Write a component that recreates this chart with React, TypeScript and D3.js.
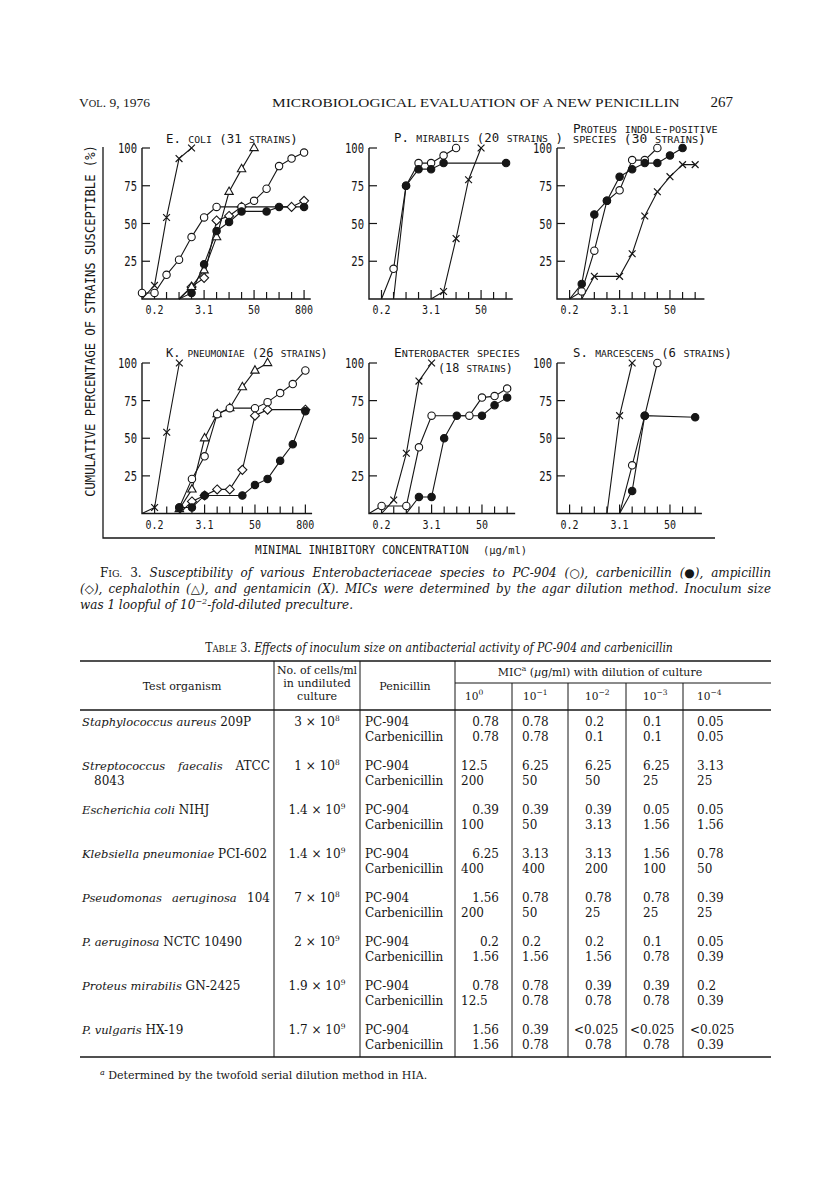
import React, { useEffect, useRef } from "react";
import * as d3 from "d3";

type Pt = [number, number];

// twofold dilution series (µg/ml) used on every x axis
const dilutions = [0.1, 0.2, 0.39, 0.78, 1.56, 3.13, 6.25, 12.5, 25, 50, 100, 200, 400, 800];
const xLabelValues = [0.2, 3.13, 50, 800];
const xLabelText = ["0.2", "3.1", "50", "800"];
const yTickValues = [25, 50, 75, 100];

// E. coli (31 strains)
const ecoliPC: Pt[] = [[0.1, 4], [0.2, 4], [0.39, 16], [0.78, 26], [1.56, 41], [3.13, 54], [6.25, 61], [25, 61], [50, 65], [100, 73], [200, 88], [400, 93], [800, 97]];
const ecoliCarb: Pt[] = [[0.78, 0], [1.56, 4], [3.13, 23], [6.25, 45], [12.5, 51], [25, 58], [100, 58], [200, 61], [800, 61]];
const ecoliAmp: Pt[] = [[0.78, 0], [1.56, 8], [3.13, 14], [6.25, 52], [12.5, 55], [25, 61], [400, 61], [800, 65]];
const ecoliCeph: Pt[] = [[0.78, 0], [1.56, 8], [3.13, 19], [6.25, 41], [12.5, 71], [25, 86], [50, 100]];
const ecoliGent: Pt[] = [[0.1, 0], [0.2, 9], [0.39, 54], [0.78, 93], [1.56, 100]];

// P. mirabilis (20 strains)
const mirPC: Pt[] = [[0.2, 0], [0.39, 20], [0.78, 75], [1.56, 90], [3.13, 90], [6.25, 95], [12.5, 100]];
const mirCarb: Pt[] = [[0.39, 0], [0.78, 75], [1.56, 86], [3.13, 86], [6.25, 90], [200, 90]];
const mirGent: Pt[] = [[3.13, 0], [6.25, 5], [12.5, 40], [25, 79], [50, 100]];

// Proteus indole-positive species (30 strains)
const indPC: Pt[] = [[0.2, 0], [0.39, 5], [0.78, 32], [1.56, 65], [3.13, 72], [6.25, 92], [12.5, 92], [25, 100]];
const indCarb: Pt[] = [[0.2, 0], [0.39, 10], [0.78, 56], [1.56, 65], [3.13, 81], [6.25, 86], [12.5, 90], [25, 90], [50, 95], [100, 100]];
const indGent: Pt[] = [[0.39, 0], [0.78, 15], [3.13, 15], [6.25, 30], [12.5, 55], [25, 71], [50, 81], [100, 89], [200, 89]];

// K. pneumoniae (26 strains)
const kpPC: Pt[] = [[0.78, 4], [1.56, 23], [3.13, 38], [6.25, 66], [12.5, 70], [50, 70], [100, 74], [200, 80], [400, 86], [800, 95]];
const kpCarb: Pt[] = [[0.78, 4], [1.56, 4], [3.13, 12], [25, 12], [50, 19], [100, 23], [200, 35], [400, 46], [800, 68]];
const kpAmp: Pt[] = [[0.78, 0], [1.56, 8], [3.13, 12], [6.25, 16], [12.5, 16], [25, 29], [50, 65], [100, 69], [800, 69]];
const kpCeph: Pt[] = [[0.78, 3], [1.56, 16], [3.13, 50], [6.25, 66], [12.5, 70], [25, 84], [50, 95], [100, 100]];
const kpGent: Pt[] = [[0.1, 0], [0.2, 4], [0.39, 54], [0.78, 100]];

// Enterobacter species (18 strains)
const entPC: Pt[] = [[0.1, 0], [0.2, 5], [0.78, 5], [1.56, 44], [3.13, 65], [25, 65], [50, 77], [100, 78], [200, 83]];
const entCarb: Pt[] = [[0.78, 0], [1.56, 11], [3.13, 11], [6.25, 50], [12.5, 65], [50, 65], [100, 72], [200, 77]];
const entGent: Pt[] = [[0.2, 0], [0.39, 9], [0.78, 40], [1.56, 88], [3.13, 100]];

// S. marcescens (6 strains)
const smPC: Pt[] = [[3.13, 0], [6.25, 32], [12.5, 65], [25, 100]];
const smCarb: Pt[] = [[3.13, 0], [6.25, 15], [12.5, 65], [200, 64]];
const smGent: Pt[] = [[1.56, 0], [3.13, 65], [6.25, 100]];

const panelTitles = [
  ["E. coli  (31 strains)"],
  ["P. mirabilis  (20 strains )"],
  ["Proteus indole-positive", "species  (30 strains)"],
  ["K. pneumoniae (26 strains)"],
  ["Enterobacter species", "(18 strains)"],
  ["S. marcescens (6 strains)"],
];
const panelSeries: Record<string, Pt[]>[] = [
  { amp: ecoliAmp, ceph: ecoliCeph, gent: ecoliGent, pc: ecoliPC, carb: ecoliCarb },
  { gent: mirGent, pc: mirPC, carb: mirCarb },
  { gent: indGent, pc: indPC, carb: indCarb },
  { amp: kpAmp, ceph: kpCeph, gent: kpGent, pc: kpPC, carb: kpCarb },
  { gent: entGent, pc: entPC, carb: entCarb },
  { gent: smGent, pc: smPC, carb: smCarb },
];

// Table 3
const orgItalic = ["Staphylococcus aureus", "Streptococcus faecalis", "Escherichia coli", "Klebsiella pneumoniae", "Pseudomonas aeruginosa", "P. aeruginosa", "Proteus mirabilis", "P. vulgaris"];
const orgStrain = ["209P", "ATCC", "NIHJ", "PCI-602", "104", "NCTC 10490", "GN-2425", "HX-19"];
const orgStrain2 = ["", "8043", "", "", "", "", "", ""];
const orgJustify = [false, true, false, false, true, false, false, false];
const cellsBase = ["3", "1", "1.4", "1.4", "7", "2", "1.9", "1.7"];
const cellsExp = ["8", "8", "9", "9", "8", "9", "9", "9"];
const dilutionExp = ["0", "−1", "−2", "−3", "−4"];
const micPC = [
  ["0.78", "0.78", "0.2", "0.1", "0.05"],
  ["12.5", "6.25", "6.25", "6.25", "3.13"],
  ["0.39", "0.39", "0.39", "0.05", "0.05"],
  ["6.25", "3.13", "3.13", "1.56", "0.78"],
  ["1.56", "0.78", "0.78", "0.78", "0.39"],
  ["0.2", "0.2", "0.2", "0.1", "0.05"],
  ["0.78", "0.78", "0.39", "0.39", "0.2"],
  ["1.56", "0.39", "<0.025", "<0.025", "<0.025"],
];
const micCarb = [
  ["0.78", "0.78", "0.1", "0.1", "0.05"],
  ["200", "50", "50", "25", "25"],
  ["100", "50", "3.13", "1.56", "1.56"],
  ["400", "400", "200", "100", "50"],
  ["200", "50", "25", "25", "25"],
  ["1.56", "1.56", "1.56", "0.78", "0.39"],
  ["12.5", "0.78", "0.78", "0.78", "0.39"],
  ["1.56", "0.78", "0.78", "0.78", "0.39"],
];

const INK = "#161616";
const MONO = "'DejaVu Sans Mono', monospace";
const SERIF = "'DejaVu Serif', serif";
const TIMES = "'Liberation Serif', serif";

// stretch a text (drawn at 0,0) to a given width
function fit(t: any, x: number, y: number, width: number, extra = "") {
  const len = (t.node() as SVGTextElement).getComputedTextLength();
  const sx = len > 0 ? width / len : 1;
  t.attr("transform", `translate(${x},${y})${extra} scale(${sx},1)`);
}

// lowercase letters become small capitals
function smallCaps(t: any, str: string, big: number, small: number) {
  (str.match(/[a-z]+|[^a-z]+/g) || []).forEach((part) => {
    const low = /[a-z]/.test(part);
    t.append("tspan").attr("font-size", low ? small : big).text(low ? part.toUpperCase() : part);
  });
  return t;
}

function justify(t: any, width: number) {
  const len = (t.node() as SVGTextElement).getComputedTextLength();
  const spaces = ((t.text() as string).match(/ /g) || []).length;
  if (spaces) t.attr("word-spacing", (width - len) / spaces);
}

function marker(g: any, drug: string, cx: number, cy: number) {
  if (drug === "pc" || drug === "carb") {
    g.append("circle").attr("cx", cx).attr("cy", cy).attr("r", 3.7)
      .attr("fill", drug === "pc" ? "#fff" : INK).attr("stroke", INK).attr("stroke-width", 1.1);
  } else if (drug === "amp") {
    const s = 4.5;
    g.append("path").attr("d", `M${cx},${cy - s}L${cx + s},${cy}L${cx},${cy + s}L${cx - s},${cy}Z`)
      .attr("fill", "#fff").attr("stroke", INK).attr("stroke-width", 1.1);
  } else if (drug === "ceph") {
    g.append("path").attr("d", `M${cx},${cy - 4.8}L${cx + 4.2},${cy + 2.6}L${cx - 4.2},${cy + 2.6}Z`)
      .attr("fill", "#fff").attr("stroke", INK).attr("stroke-width", 1.1);
  } else {
    const s = 3.4;
    g.append("path").attr("d", `M${cx - s},${cy - s}L${cx + s},${cy + s}M${cx - s},${cy + s}L${cx + s},${cy - s}`)
      .attr("fill", "none").attr("stroke", INK).attr("stroke-width", 1.2);
  }
}

const App = () => {
  const ref = useRef<SVGSVGElement | null>(null);

  useEffect(() => {
    const svg = d3.select(ref.current);
    svg.selectAll("*").remove();
    svg.append("rect").attr("width", 816).attr("height", 1199).attr("fill", "#fff");
    svg.style("white-space", "pre");

    // running head
    const vol = svg.append("text").attr("font-family", TIMES).attr("fill", INK);
    smallCaps(vol, "Vol. 9, 1976", 13, 10);
    fit(vol, 79, 107, 71);
    const head = svg.append("text").attr("font-family", TIMES).attr("font-size", 13).attr("fill", INK)
      .text("MICROBIOLOGICAL EVALUATION OF A NEW PENICILLIN");
    fit(head, 272, 107, 408);
    svg.append("text").attr("font-family", TIMES).attr("font-size", 15).attr("fill", INK)
      .attr("x", 733).attr("y", 107).attr("text-anchor", "end").text("267");

    // panel geometry
    const layout = [
      { x0: 142, yBase: 299, yTop: 148, step: 12.5, ticks: 13, end: 13.5, titles: [[166, 143, 132]] },
      { x0: 369, yBase: 299, yTop: 148, step: 12.5, ticks: 11, end: 11.5, titles: [[394, 141.8, 169]] },
      { x0: 557, yBase: 299, yTop: 148, step: 12.6, ticks: 11, end: 11.7, titles: [[573, 132.8, 145], [573, 143.3, 133]] },
      { x0: 142, yBase: 513.5, yTop: 363, step: 12.6, ticks: 13, end: 13.5, titles: [[166, 356.7, 162]] },
      { x0: 369, yBase: 513.5, yTop: 363, step: 12.6, ticks: 11, end: 11.6, titles: [[394, 356.7, 126], [438, 372, 75]] },
      { x0: 557, yBase: 513.5, yTop: 363, step: 12.6, ticks: 11, end: 11.5, titles: [[573, 356.7, 159]] },
    ];

    layout.forEach((L, k) => {
      const x = d3.scaleLog().base(2).domain([0.1, 819.2]).range([L.x0, L.x0 + 13 * L.step]);
      const y = d3.scaleLinear().domain([0, 100]).range([L.yBase, L.yTop]);
      const g = svg.append("g");

      // axes
      g.append("path")
        .attr("d", `M${L.x0},${L.yTop}V${L.yBase}H${L.x0 + L.end * L.step}`)
        .attr("fill", "none").attr("stroke", INK).attr("stroke-width", 1.4);
      dilutions.slice(1, L.ticks + 1).forEach((d) => {
        const major = xLabelValues.includes(d);
        g.append("line").attr("x1", x(d)).attr("x2", x(d))
          .attr("y1", L.yBase).attr("y2", L.yBase - (major ? 9 : 7))
          .attr("stroke", INK).attr("stroke-width", 1.2);
      });
      xLabelValues.forEach((d, i) => {
        if (d > dilutions[L.ticks]) return;
        const t = g.append("text").attr("font-family", MONO).attr("font-size", 12.5)
          .attr("text-anchor", "middle").attr("fill", INK).text(xLabelText[i]);
        t.attr("transform", `translate(${x(d)},${L.yBase + 15}) scale(0.8,1)`);
      });
      yTickValues.forEach((v) => {
        g.append("line").attr("x1", L.x0).attr("x2", L.x0 + 8)
          .attr("y1", y(v)).attr("y2", y(v)).attr("stroke", INK).attr("stroke-width", 1.2);
        const t = g.append("text").attr("font-family", MONO).attr("font-size", 13.5)
          .attr("text-anchor", "end").attr("fill", INK).text(String(v));
        t.attr("transform", `translate(${L.x0 - 5},${y(v) + 5}) scale(0.78,1)`);
      });

      // titles
      panelTitles[k].forEach((str, j) => {
        const [tx, ty, tw] = L.titles[j];
        const t = smallCaps(g.append("text").attr("font-family", MONO).attr("fill", INK), str, 12, 9.5);
        fit(t, tx, ty, tw);
      });

      // curves
      const series = panelSeries[k];
      const line = d3.line<Pt>().x((d) => x(d[0])).y((d) => y(d[1]));
      const order = ["amp", "ceph", "gent", "pc", "carb"].filter((s) => series[s]);
      order.forEach((s) => {
        g.append("path").attr("d", line(series[s]) as string)
          .attr("fill", "none").attr("stroke", INK).attr("stroke-width", 1.1);
      });
      order.forEach((s) => {
        series[s].filter((d) => d[1] > 0).forEach((d) => marker(g, s, x(d[0]), y(d[1])));
      });
    });

    // shared axis titles and bracket
    svg.append("path").attr("d", "M103,147V538H715").attr("fill", "none")
      .attr("stroke", INK).attr("stroke-width", 1.3);
    const yTitle = svg.append("text").attr("font-family", MONO).attr("font-size", 13.5)
      .attr("text-anchor", "middle").attr("fill", INK)
      .text("CUMULATIVE  PERCENTAGE  OF  STRAINS  SUSCEPTIBLE (%)");
    fit(yTitle, 95, 321, 352, " rotate(-90)");
    const xTitle = svg.append("text").attr("font-family", MONO).attr("font-size", 13)
      .attr("fill", INK).text("MINIMAL  INHIBITORY  CONCENTRATION");
    fit(xTitle, 255, 554, 214);
    const unit = svg.append("text").attr("font-family", MONO).attr("font-size", 10)
      .attr("fill", INK).text("(µg/ml)");
    fit(unit, 483, 554, 44);

    // figure legend
    const cap1 = svg.append("text").attr("font-family", SERIF).attr("font-size", 12)
      .attr("fill", INK).attr("x", 100).attr("y", 577);
    cap1.append("tspan").text("F");
    cap1.append("tspan").attr("font-size", 9.5).text("IG.");
    cap1.append("tspan").text(" 3. ");
    cap1.append("tspan").attr("font-style", "italic")
      .text("Susceptibility of various Enterobacteriaceae species to PC-904 (○), carbenicillin (●), ampicillin");
    justify(cap1, 671);
    const cap2 = svg.append("text").attr("font-family", SERIF).attr("font-size", 12)
      .attr("font-style", "italic").attr("fill", INK).attr("x", 80).attr("y", 593)
      .text("(◇), cephalothin (△), and gentamicin (X). MICs were determined by the agar dilution method. Inoculum size");
    justify(cap2, 691);
    const cap3 = svg.append("text").attr("font-family", SERIF).attr("font-size", 12)
      .attr("font-style", "italic").attr("fill", INK).attr("x", 80).attr("y", 609);
    cap3.append("tspan").text("was 1 loopful of 10");
    cap3.append("tspan").attr("font-size", 8).attr("dy", -5).text("−2");
    cap3.append("tspan").attr("dy", 5).text("-fold-diluted preculture.");

    // table title
    const tt = svg.append("text").attr("font-family", SERIF).attr("font-size", 12)
      .attr("fill", INK).attr("text-anchor", "middle");
    tt.append("tspan").text("T");
    tt.append("tspan").attr("font-size", 9.5).text("ABLE");
    tt.append("tspan").text(" 3. ");
    tt.append("tspan").attr("font-style", "italic")
      .text("Effects of inoculum size on antibacterial activity of PC-904 and carbenicillin");
    fit(tt, 439, 652, 468);

    // table frame
    const left = 80, right = 771, top = 661, subRule = 683, headRule = 710, bottom = 1057;
    const colX = [455, 512, 568, 626, 683];
    const rule = (x1: number, y1: number, x2: number, y2: number, w = 1) =>
      svg.append("line").attr("x1", x1).attr("y1", y1).attr("x2", x2).attr("y2", y2)
        .attr("stroke", INK).attr("stroke-width", w);
    rule(left, top, right, top, 1.6);
    rule(left, headRule, right, headRule, 1.4);
    rule(left, bottom, right, bottom, 1.6);
    rule(colX[0], subRule, right, subRule, 1);
    [274, 360, colX[0]].forEach((vx) => rule(vx, top, vx, bottom, 1));
    colX.slice(1).forEach((vx) => rule(vx, subRule, vx, bottom, 1));

    const cell = (x: number, y: number, anchor = "start", size = 12) =>
      svg.append("text").attr("font-family", SERIF).attr("font-size", size).attr("fill", INK)
        .attr("x", x).attr("y", y).attr("text-anchor", anchor);

    cell(182, 690, "middle", 11).text("Test organism");
    cell(317, 674, "middle", 11).text("No. of cells/ml");
    cell(317, 687, "middle", 11).text("in undiluted");
    cell(317, 700, "middle", 11).text("culture");
    cell(405, 690, "middle", 11).text("Penicillin");
    const mic = cell(600, 676, "middle", 11);
    mic.append("tspan").text("MIC");
    mic.append("tspan").attr("font-size", 7.5).attr("dy", -5).text("a");
    mic.append("tspan").attr("dy", 5).text(" (");
    mic.append("tspan").attr("font-style", "italic").text("µ");
    mic.append("tspan").text("g/ml) with dilution of culture");
    dilutionExp.forEach((e, i) => {
      const h = cell(colX[i] + [10, 11, 17, 17, 14][i], 700, "start", 10.5);
      h.append("tspan").text("10");
      h.append("tspan").attr("font-size", 7.5).attr("dy", -5).text(e);
    });

    const micX = (col: number, v: string): [number, string] => {
      if (v.startsWith("<")) return [colX[col] + [5, 6, 6, 4, 7][col], "start"];
      if (col === 0) return parseFloat(v) < 10 ? [colX[0] + 44, "end"] : [colX[0] + 6, "start"];
      return [colX[col] + [0, 10, 17, 17, 14][col], "start"];
    };

    orgItalic.forEach((name, r) => {
      const y1 = 726 + r * 44;
      const y2 = y1 + 15;
      const t = cell(82, y1);
      t.append("tspan").attr("font-style", "italic").attr("font-size", 11.5).text(name);
      t.append("tspan").text(" " + orgStrain[r]);
      if (orgJustify[r]) justify(t, 270 - 82);
      if (orgStrain2[r]) cell(94, y2).text(orgStrain2[r]);

      const c = cell(317, y1, "middle");
      c.append("tspan").text(`${cellsBase[r]} × 10`);
      c.append("tspan").attr("font-size", 7.5).attr("dy", -5).text(cellsExp[r]);

      cell(365, y1).text("PC-904");
      cell(365, y2).text("Carbenicillin");
      micPC[r].forEach((v, i) => {
        const [vx, a] = micX(i, v);
        cell(vx, y1, a).text(v);
      });
      micCarb[r].forEach((v, i) => {
        const [vx, a] = micX(i, v);
        cell(vx, y2, a).text(v);
      });
    });

    const foot = svg.append("text").attr("font-family", SERIF).attr("font-size", 11)
      .attr("fill", INK).attr("x", 100).attr("y", 1079);
    foot.append("tspan").attr("font-size", 8).attr("font-style", "italic").attr("dy", -4).text("a");
    foot.append("tspan").attr("dy", 4).text(" Determined by the twofold serial dilution method in HIA.");
  }, []);

  return (
    <svg ref={ref} width={816} height={1199}
      style={{ position: "absolute", left: 0, top: 0, display: "block" }} />
  );
};

export default App;
